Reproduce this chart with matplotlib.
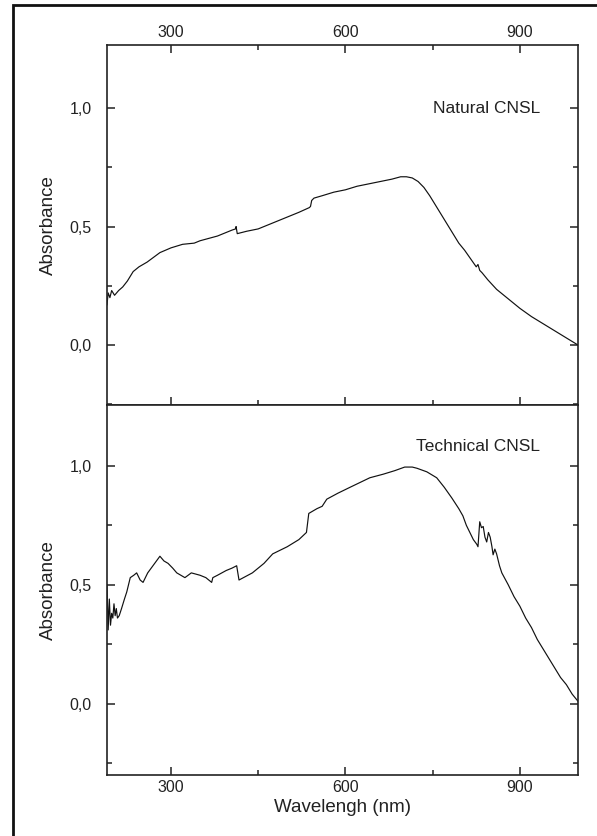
import matplotlib
matplotlib.use("Agg")
import matplotlib.pyplot as plt
from matplotlib.ticker import FixedLocator, FuncFormatter
from matplotlib.patches import Rectangle

plt.rcParams['font.family'] = ['Liberation Sans', 'DejaVu Sans']

# Natural CNSL
nat_x = [190, 192, 195, 198, 203, 210, 217, 225, 235, 245, 259, 270, 281, 300, 320, 340, 350,
         365, 380, 395, 405, 411, 412, 414, 430, 450, 470, 500, 520, 538, 540, 542, 546, 560,
         580, 600, 620, 640, 660, 680, 695, 705, 715, 725, 735, 745, 755, 765, 775, 785, 795,
         805, 815, 825, 828, 831, 835, 845, 860, 880, 900, 920, 940, 960, 980, 1000]
nat_y = [0.17, 0.22, 0.20, 0.23, 0.21, 0.23, 0.245, 0.27, 0.31, 0.33, 0.35, 0.37, 0.39, 0.41,
         0.425, 0.43, 0.44, 0.45, 0.46, 0.475, 0.485, 0.49, 0.50, 0.47, 0.48, 0.49, 0.51,
         0.54, 0.56, 0.58, 0.585, 0.61, 0.62, 0.63, 0.645, 0.655, 0.67, 0.68, 0.69, 0.70,
         0.71, 0.71, 0.705, 0.69, 0.665, 0.63, 0.59, 0.55, 0.51, 0.47, 0.43, 0.40, 0.365,
         0.33, 0.34, 0.315, 0.305, 0.275, 0.235, 0.195, 0.155, 0.12, 0.09, 0.06, 0.03, 0.0]

# Technical CNSL
tec_x = [190, 192, 194, 196, 198, 200, 202, 204, 206, 208, 211, 215, 220, 224, 230, 236, 241,
         247, 252, 260, 269, 275, 281, 288, 295, 303, 310, 317, 324, 335, 350, 360, 370, 372,
         380, 395, 405, 413, 415, 417, 440, 460, 475, 500, 520, 533, 535, 537, 551, 560, 568,
         587, 608, 625, 642, 665, 685, 702, 715, 723, 740, 757, 770, 783, 795, 802, 808, 814,
         820, 826, 828, 831, 834, 837, 840, 843, 846, 849, 852, 854, 857, 860, 865, 869, 880,
         890, 900, 910, 920, 930, 940, 950, 960, 970, 980, 990, 1000]
tec_y = [0.50, 0.31, 0.44, 0.33, 0.38, 0.36, 0.42, 0.37, 0.40, 0.36, 0.37, 0.40, 0.44, 0.47,
         0.53, 0.54, 0.55, 0.52, 0.51, 0.55, 0.58, 0.60, 0.62, 0.60, 0.59, 0.57, 0.55, 0.54,
         0.53, 0.55, 0.54, 0.53, 0.51, 0.53, 0.54, 0.56, 0.57, 0.58, 0.55, 0.52, 0.55, 0.59,
         0.63, 0.66, 0.69, 0.72, 0.76, 0.80, 0.82, 0.83, 0.86, 0.885, 0.91, 0.93, 0.95, 0.965,
         0.98, 0.995, 0.995, 0.99, 0.975, 0.95, 0.91, 0.865, 0.82, 0.79, 0.75, 0.72, 0.69, 0.67,
         0.66, 0.765, 0.74, 0.745, 0.70, 0.68, 0.72, 0.70, 0.66, 0.626, 0.65, 0.63, 0.58, 0.55,
         0.50, 0.45, 0.41, 0.36, 0.32, 0.27, 0.23, 0.19, 0.15, 0.11, 0.08, 0.04, 0.01]

x_major = [300, 600, 900]
x_minor = [450, 750]
y_major = [0.0, 0.5, 1.0]
y_minor = [-0.25, 0.25, 0.75]
labels = ["Natural CNSL", "Technical CNSL"]

W, H = 597, 836
fig = plt.figure(figsize=(W / 100, H / 100), dpi=100)

def px(l, t, r, b):
    return [l / W, 1 - b / H, (r - l) / W, (b - t) / H]

ax1 = fig.add_axes(px(107, 45, 578, 405))
ax2 = fig.add_axes(px(107, 405, 578, 775))

comma = FuncFormatter(lambda v, p: f"{v:.1f}".replace(".", ","))

for ax, xs, ys, lab, ylim, ty in [(ax1, nat_x, nat_y, labels[0], (-0.253, 1.266), 1.0),
                                   (ax2, tec_x, tec_y, labels[1], (-0.30, 1.256), 1.08)]:
    ax.plot(xs, ys, color='#111111', lw=0.85)
    ax.set_xlim(190, 1000)
    ax.set_ylim(*ylim)
    ax.xaxis.set_major_locator(FixedLocator(x_major))
    ax.xaxis.set_minor_locator(FixedLocator(x_minor))
    ax.yaxis.set_major_locator(FixedLocator(y_major))
    ax.yaxis.set_minor_locator(FixedLocator(y_minor))
    ax.yaxis.set_major_formatter(comma)
    for s in ax.spines.values():
        s.set_linewidth(1.2)
        s.set_color('#222222')
    ax.tick_params(which='both', direction='in', width=1.1, color='#222222',
                   labelsize=11.5, labelcolor='#222222', left=True, right=True)
    ax.tick_params(which='major', length=6)
    ax.tick_params(which='minor', length=3.5)
    ax.tick_params(axis='y', which='major', pad=11)
    ax.set_ylabel("Absorbance", fontsize=13.5, color='#222222', labelpad=9)
    ax.text(935, ty, lab, fontsize=12.5, color='#222222', va='center', ha='right')
    ax.set_facecolor('white')

ax1.tick_params(axis='x', which='both', top=True, bottom=True, labeltop=True,
                labelbottom=False, pad=3.5)
ax2.tick_params(axis='x', which='both', top=False, bottom=True, labeltop=False,
                labelbottom=True, pad=3.5)
ax2.set_xlabel("Wavelengh (nm)", fontsize=13.5, color='#222222', labelpad=3)

fig.patches.append(Rectangle((13 / W, -0.2), 1.5, 1.2 - 5 / H, transform=fig.transFigure,
                             fill=False, lw=2, edgecolor='#111111'))

fig.savefig("out.png", dpi=100)
